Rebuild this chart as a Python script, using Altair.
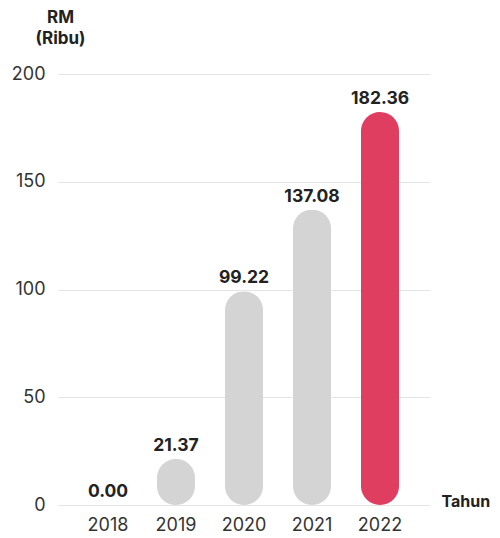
import altair as alt
import pandas as pd

years = ["2018", "2019", "2020", "2021", "2022"]
values = [0.00, 21.37, 99.22, 137.08, 182.36]
colors = ["#d4d4d4", "#d4d4d4", "#d4d4d4", "#d4d4d4", "#e03e60"]
labels = ["0.00", "21.37", "99.22", "137.08", "182.36"]

df = pd.DataFrame({"year": years, "value": values, "color": colors, "label": labels})

FONT = "Inter"

x = alt.X("year:N", sort=years,
          scale=alt.Scale(paddingInner=0.44, paddingOuter=0.455),
          axis=alt.Axis(title="Tahun", titleX=383, titleY=1, titleAlign="left",
                        titleBaseline="alphabetic", titleFontSize=16, titleFontWeight="bold",
                        titleColor="#222", titleFont=FONT,
                        labelAngle=0, labelFontSize=18, labelColor="#333", labelFont=FONT,
                        labelPadding=11, ticks=False, domain=False, grid=False))
y = alt.Y("value:Q",
          scale=alt.Scale(domain=[0, 200]),
          axis=alt.Axis(title=["RM", "(Ribu)"], titleAngle=0, titleX=2, titleY=-52,
                        titleAlign="center", titleBaseline="alphabetic", titleLineHeight=21,
                        titleFontSize=17, titleFontWeight="bold", titleColor="#222", titleFont=FONT,
                        values=[0, 50, 100, 150, 200], labelFontSize=18, labelColor="#333",
                        labelFont=FONT, labelPadding=13, ticks=False, domain=False,
                        grid=True, gridColor="#e4e4e4", gridWidth=1))

bars = alt.Chart(df).mark_bar(cornerRadius=19).encode(
    x=x, y=y, color=alt.Color("color:N", scale=None)
)

text = alt.Chart(df).mark_text(baseline="alphabetic", dy=-8, fontSize=17.5,
                               fontWeight="bold", color="#222", font=FONT).encode(
    x=alt.X("year:N", sort=years), y=alt.Y("value:Q"), text="label:N"
)

chart = (bars + text).properties(
    width=372, height=431,
    autosize=alt.AutoSizeParams(type="none"),
    padding={"left": 50, "top": 66, "right": 62, "bottom": 33},
).configure_view(stroke=None)

chart.save("out.html", embed_options={"renderer": "svg", "actions": False})
